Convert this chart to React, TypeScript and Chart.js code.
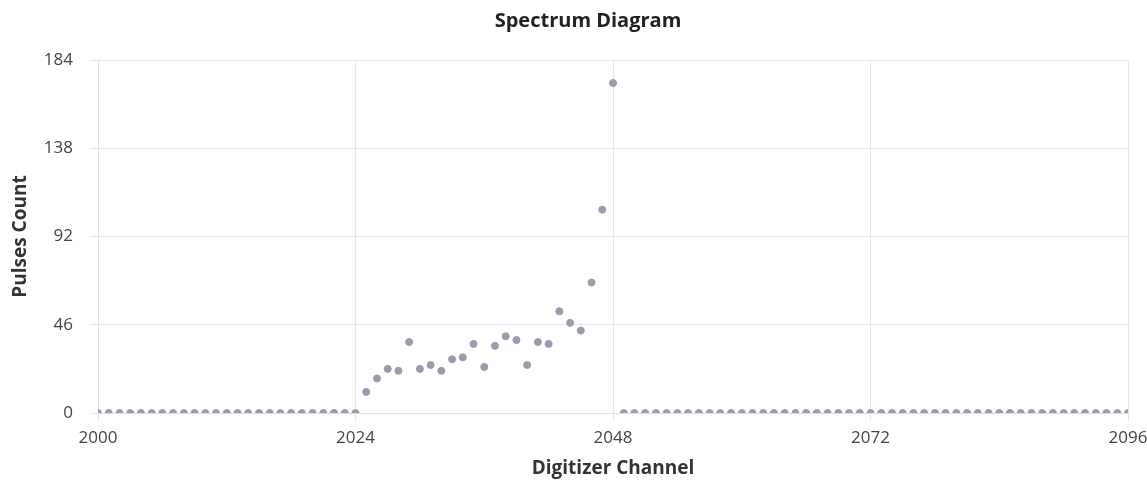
import React, { useEffect, useRef } from "react";
import { Chart, registerables } from "chart.js";

Chart.register(...registerables);

const channels: number[] = [];
for (let c = 2000; c <= 2096; c++) channels.push(c);

const peakStart = 2025;
const peakValues = [11, 18, 23, 22, 37, 23, 25, 22, 28, 29, 36, 24, 35, 40, 38, 25, 37, 36, 53, 47, 43, 68, 106, 172];

const pulses: number[] = channels.map((c) => {
  const i = c - peakStart;
  return i >= 0 && i < peakValues.length ? peakValues[i] : 0;
});

const xTicks = [2000, 2024, 2048, 2072, 2096];
const yTicks = [0, 46, 92, 138, 184];
const chartTitle = "Spectrum Diagram";

const FONT = "'Open Sans', 'Noto Sans', sans-serif";

const titlePlugin = {
  id: "customTitle",
  afterDraw(chart: any) {
    const ctx = chart.ctx;
    ctx.save();
    ctx.font = `bold 20px ${FONT}`;
    ctx.fillStyle = "#222";
    ctx.textAlign = "center";
    ctx.textBaseline = "middle";
    ctx.fillText(chartTitle, 588, 21);
    ctx.restore();
  },
};

export default function App() {
  const ref = useRef<HTMLCanvasElement | null>(null);
  useEffect(() => {
    if (!ref.current) return;
    const chart = new Chart(ref.current, {
      type: "scatter",
      data: {
        datasets: [
          {
            label: "Pulses",
            data: channels.map((c, i) => ({ x: c, y: pulses[i] })),
            backgroundColor: "#9b9aae",
            borderColor: "#9b9aae",
            borderWidth: 1,
            pointRadius: 3.5,
            clip: 0,
          },
        ],
      },
      plugins: [titlePlugin],
      options: {
        responsive: false,
        animation: false,
        layout: { padding: { left: 0, right: 19, top: 60, bottom: 0 } },
        plugins: {
          legend: { display: false },
          tooltip: { enabled: false },
          title: { display: false },
        },
        scales: {
          x: {
            type: "linear",
            min: xTicks[0],
            max: xTicks[xTicks.length - 1],
            afterBuildTicks: (axis: any) => {
              axis.ticks = xTicks.map((v) => ({ value: v }));
            },
            afterFit: (axis: any) => {
              axis.height = 68;
              axis.paddingLeft = 0;
              axis.paddingRight = 0;
            },
            ticks: {
              color: "#444",
              font: { family: FONT, size: 17 },
              maxRotation: 0,
              autoSkip: false,
              padding: 7,
              callback: (v: any) => String(v),
            },
            grid: { color: "#e8e4ee", tickLength: 8 },
            border: { color: "#e0dce8" },
            title: {
              display: true,
              text: "Digitizer Channel",
              color: "#333",
              font: { family: FONT, size: 19, weight: "bold" },
              padding: { top: 0, bottom: 1 },
            },
          },
          y: {
            min: 0,
            max: 184,
            afterBuildTicks: (axis: any) => {
              axis.ticks = yTicks.map((v) => ({ value: v }));
            },
            afterFit: (axis: any) => {
              axis.width = 98;
              axis.paddingTop = 0;
              axis.paddingBottom = 0;
            },
            ticks: {
              color: "#444",
              font: { family: FONT, size: 17 },
              padding: 17,
              callback: (v: any) => String(v),
            },
            grid: { color: "#e8e4ee", tickLength: 8 },
            border: { color: "#e0dce8" },
            title: {
              display: true,
              text: "Pulses Count",
              color: "#333",
              font: { family: FONT, size: 19, weight: "bold" },
              padding: { top: 9, bottom: 0 },
            },
          },
        },
      },
    });
    return () => chart.destroy();
  }, []);
  return (
    <div style={{ position: "absolute", left: 0, top: 0, width: 1147, height: 481 }}>
      <canvas ref={ref} width={1147} height={481} />
    </div>
  );
}
